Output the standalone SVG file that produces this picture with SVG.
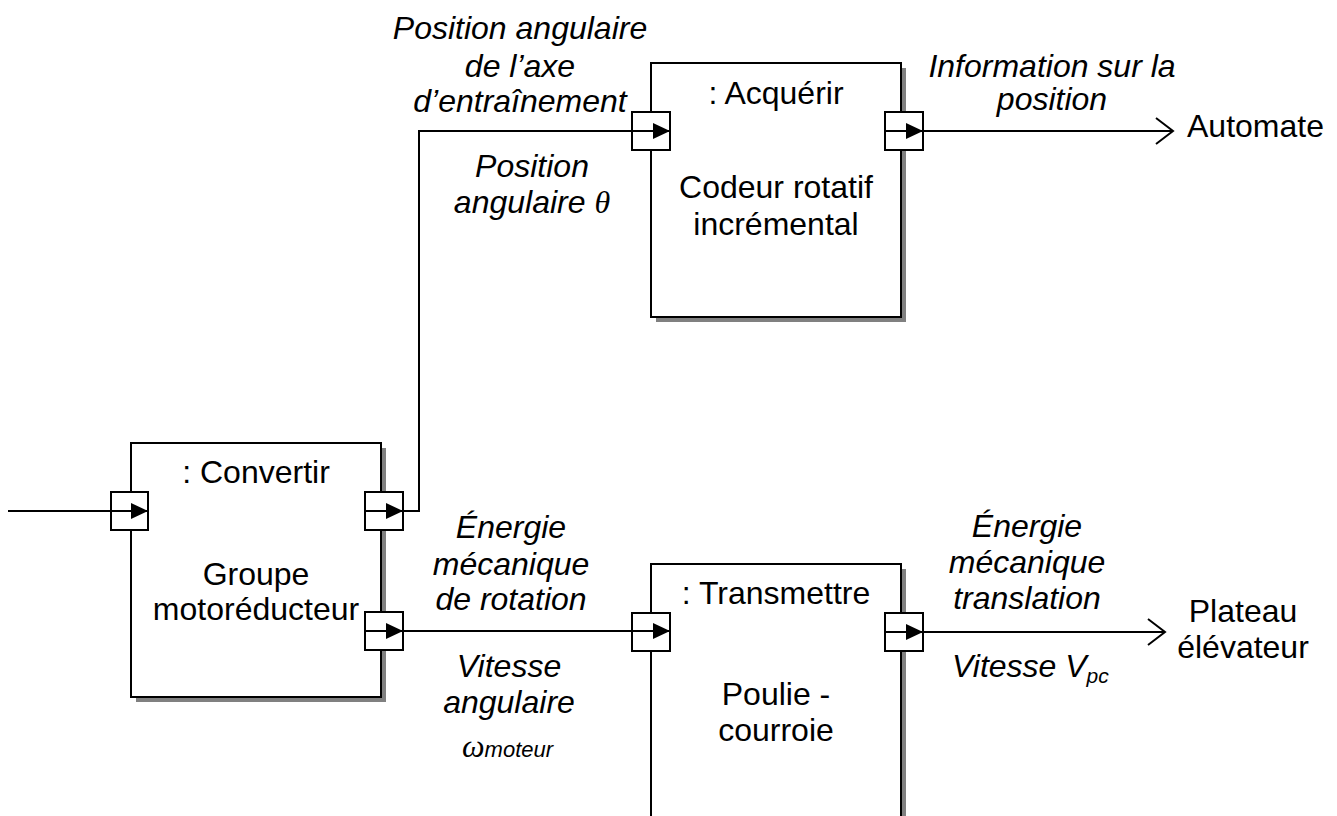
<svg xmlns="http://www.w3.org/2000/svg" width="1337" height="816" viewBox="0 0 1337 816">
<style>
.box{fill:#fff;stroke:#000;stroke-width:2}
.shadow{fill:#808080;stroke:none}
.port{fill:#fff;stroke:#000;stroke-width:2}
.ln{fill:none;stroke:#000;stroke-width:2}
text{font-family:"Liberation Sans",Arial,sans-serif;font-size:32px;fill:#000}
.c{text-anchor:middle}
.i{font-style:italic}
.sym{font-family:"Liberation Serif","Times New Roman",serif;font-style:italic}
</style>
<defs>
<marker id="fa" markerUnits="userSpaceOnUse" markerWidth="18" markerHeight="18" refX="17" refY="9" orient="auto">
<path d="M0,1 L17,9 L0,17 z" fill="#000"/>
</marker>
<marker id="oa" markerUnits="userSpaceOnUse" markerWidth="22" markerHeight="32" refX="19" refY="16" orient="auto">
<path d="M2,3 L19,16 L2,29" fill="none" stroke="#000" stroke-width="2"/>
</marker>
</defs>
<rect width="1337" height="816" fill="#fff"/>

<g id="convertir">
<rect class="shadow" x="136" y="448" width="250" height="254"/>
<rect class="box" x="131" y="443" width="250" height="254"/>
<text class="c" x="256" y="483">: Convertir</text>
<text class="c" x="256" y="585">Groupe</text>
<text class="c" x="256" y="620">motoréducteur</text>
<rect class="port" x="111" y="492" width="37" height="38"/>
<rect class="port" x="365" y="492" width="38" height="38"/>
<rect class="port" x="365" y="612" width="38" height="38"/>
<path class="ln" d="M365,511 H403" marker-end="url(#fa)"/>
<path class="ln" d="M365,631 H403" marker-end="url(#fa)"/>
</g>

<g id="acquerir">
<rect class="shadow" x="656" y="68" width="250" height="254"/>
<rect class="box" x="651" y="63" width="250" height="254"/>
<text class="c" x="776" y="104">: Acquérir</text>
<text class="c" x="776" y="198">Codeur rotatif</text>
<text class="c" x="776" y="235">incrémental</text>
<rect class="port" x="632" y="112" width="38" height="38"/>
<rect class="port" x="885" y="112" width="38" height="38"/>
<path class="ln" d="M885,131 H923" marker-end="url(#fa)"/>
</g>

<g id="transmettre">
<rect class="shadow" x="656" y="569" width="250" height="300"/>
<rect class="box" x="651" y="564" width="250" height="300"/>
<text class="c" x="776" y="604">: Transmettre</text>
<text class="c" x="776" y="705">Poulie -</text>
<text class="c" x="776" y="741">courroie</text>
<rect class="port" x="632" y="613" width="38" height="38"/>
<rect class="port" x="885" y="613" width="38" height="38"/>
<path class="ln" d="M885,632 H923" marker-end="url(#fa)"/>
</g>

<g id="connectors">
<path class="ln" d="M8,511 H148" marker-end="url(#fa)"/>
<path class="ln" d="M403,511 H419 V131 H670" marker-end="url(#fa)"/>
<path class="ln" d="M403,631 H670" marker-end="url(#fa)"/>
<path class="ln" d="M923,131 H1173" marker-end="url(#oa)"/>
<path class="ln" d="M923,632 H1165" marker-end="url(#oa)"/>
</g>

<g id="labels">
<text class="c i" x="520" y="39">Position angulaire</text>
<text class="c i" x="520" y="77">de l’axe</text>
<text class="c i" x="520" y="112">d’entraînement</text>
<text class="c i" x="532" y="177">Position</text>
<text class="c i" x="532" y="213">angulaire <tspan class="sym">θ</tspan></text>
<text class="c i" x="1052" y="77">Information sur la</text>
<text class="c i" x="1052" y="110">position</text>
<text x="1187" y="137">Automate</text>
<text class="c i" x="511" y="538">Énergie</text>
<text class="c i" x="511" y="575">mécanique</text>
<text class="c i" x="511" y="610">de rotation</text>
<text class="c i" x="509" y="677">Vitesse</text>
<text class="c i" x="509" y="713">angulaire</text>
<text x="462" y="757"><tspan class="sym" font-size="32">ω</tspan><tspan class="i" font-size="22">moteur</tspan></text>
<text class="c i" x="1027" y="537">Énergie</text>
<text class="c i" x="1027" y="573">mécanique</text>
<text class="c i" x="1027" y="609">translation</text>
<text class="i" x="952" y="677">Vitesse V<tspan font-size="21" dy="6">pc</tspan></text>
<text class="c" x="1243" y="622">Plateau</text>
<text class="c" x="1243" y="658">élévateur</text>
</g>
</svg>
